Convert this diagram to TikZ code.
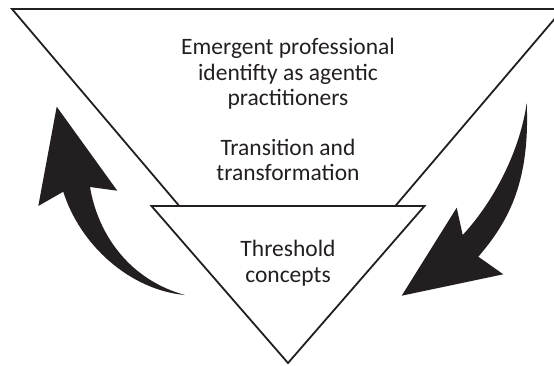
\documentclass[tikz,border=0pt]{standalone}
\usepackage{fontspec}
\setmainfont{Carlito}
\definecolor{ink}{HTML}{231F20}
\begin{document}
\begin{tikzpicture}[x=1pt,y=-1pt,
  txt/.style={anchor=base,inner sep=0pt,text=ink,font=\fontsize{23.5}{25.7}\selectfont},
  edge/.style={draw=ink,line width=1.8pt,line join=miter},
  bigarrow/.style={fill=ink,draw=none}]
\useasboundingbox (0,0) rectangle (554,365);
\clip (0,0) rectangle (554,365);
% big triangle
\coordinate (TL) at (12,9);
\coordinate (TR) at (563,9);
\coordinate (LL) at (179.3,206);
\coordinate (LR) at (395.3,206);
\draw[edge] (LL) -- (TL) -- (TR) -- (LR);
% small triangle
\coordinate (sA) at (151.5,206);
\coordinate (sB) at (424.5,206);
\coordinate (sC) at (288,363);
\draw[edge,fill=white] (sA) -- (sB) -- (sC) -- cycle;
% texts
\node[txt] (e1) at (288,54.3) {Emergent professional};
\node[txt] (e2) at (288,80) {identifty as agentic};
\node[txt] (e3) at (288,105.7) {practitioners};
\node[txt] (t1) at (288,155) {Transition and};
\node[txt] (t2) at (288,180.7) {transformation};
\node[txt] (h1) at (288,256.7) {Threshold};
\node[txt] (h2) at (288,282.4) {concepts};
% left arrow (upward)
\fill[bigarrow] (56.7,106.7) -- (117.3,190.7) -- (90,187)
  .. controls (98,235) and (130,280) .. (185,295)
  .. controls (130,290) and (80,245) .. (63.3,191.7)
  -- (38.3,206) -- cycle;
% right arrow (downward)
\fill[bigarrow] (526.7,103)
  .. controls (530,180) and (510,220) .. (478.3,256.7)
  -- (503.3,274.3) -- (401.7,295.7) -- (456.7,207.7) -- (462.7,235)
  .. controls (495,200) and (520,150) .. (526.7,103) -- cycle;
\end{tikzpicture}
\end{document}
